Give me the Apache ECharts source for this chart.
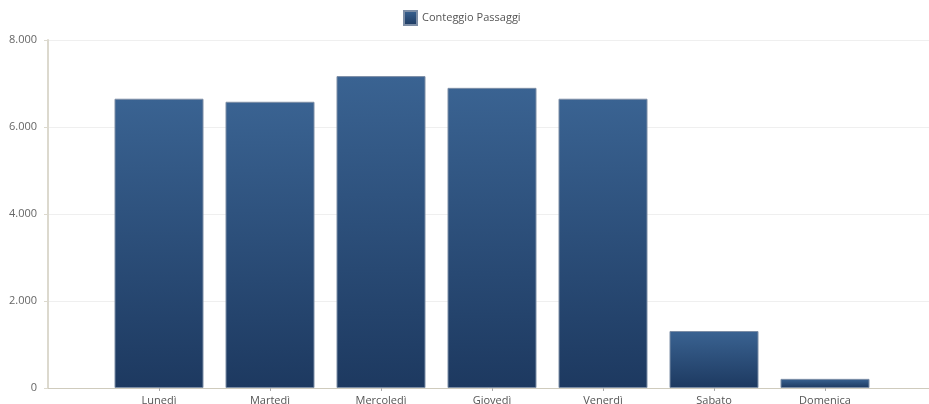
<!DOCTYPE html>
<html>
<head>
<meta charset="utf-8">
<script src="https://cdn.jsdelivr.net/npm/echarts@6/dist/echarts.min.js"></script>
<style>html,body{margin:0;padding:0;background:#fff}#c{width:929px;height:404px}</style>
</head>
<body>
<div id="c"></div>
<script>
const categories = ['Lunedì', 'Martedì', 'Mercoledì', 'Giovedì', 'Venerdì', 'Sabato', 'Domenica'];
const seriesName = 'Conteggio Passaggi';
const values = [6650, 6580, 7170, 6900, 6650, 1310, 210];
const yTicks = [0, 2000, 4000, 6000, 8000];

const axisCats = [''].concat(categories, ['']);
const barData = ['-'].concat(values, ['-']);
const fmt = v => String(v).replace(/\B(?=(\d{3})+(?!\d))/g, '.');
const font = '"Open Sans", "Noto Sans", sans-serif';

const chart = echarts.init(document.getElementById('c'), null, {renderer: 'canvas'});
chart.setOption({
  animation: false,
  backgroundColor: '#ffffff',
  textStyle: {fontFamily: font},
  legend: {
    top: 10,
    left: 403,
    padding: 0,
    itemWidth: 13,
    itemHeight: 14,
    icon: 'rect',
    textStyle: {fontSize: 11, color: '#555', fontFamily: font},
    data: [seriesName]
  },
  grid: {left: 48, top: 40, width: 888, height: 348, containLabel: false, outerBoundsMode: 'none'},
  xAxis: {
    type: 'category',
    data: axisCats,
    boundaryGap: false,
    axisLine: {show: true, lineStyle: {color: '#cfcbbd', width: 1}},
    axisTick: {show: true, length: 3, interval: (i) => i > 0 && i < axisCats.length - 1, lineStyle: {color: '#aaa'}},
    axisLabel: {color: '#555', fontSize: 11, margin: 7, fontFamily: font, interval: 0},
    splitLine: {show: false}
  },
  yAxis: {
    type: 'value',
    min: yTicks[0],
    max: yTicks[yTicks.length - 1],
    interval: yTicks[1] - yTicks[0],
    axisLine: {show: true, lineStyle: {color: '#dcd9ce', width: 2}},
    axisTick: {show: true, length: 4, lineStyle: {color: '#dcd9ce'}},
    axisLabel: {color: '#666', fontSize: 11, margin: 11, fontFamily: font, formatter: fmt},
    splitLine: {show: true, lineStyle: {color: '#efefef', width: 1}}
  },
  series: [{
    name: seriesName,
    type: 'bar',
    data: barData,
    barWidth: 89,
    itemStyle: {
      color: new echarts.graphic.LinearGradient(0, 0, 0, 1, [
        {offset: 0, color: '#3a6392'},
        {offset: 1, color: '#1d3960'}
      ]),
      borderColor: '#7d8ea6',
      borderWidth: 1
    }
  }]
});
</script>
</body>
</html>
